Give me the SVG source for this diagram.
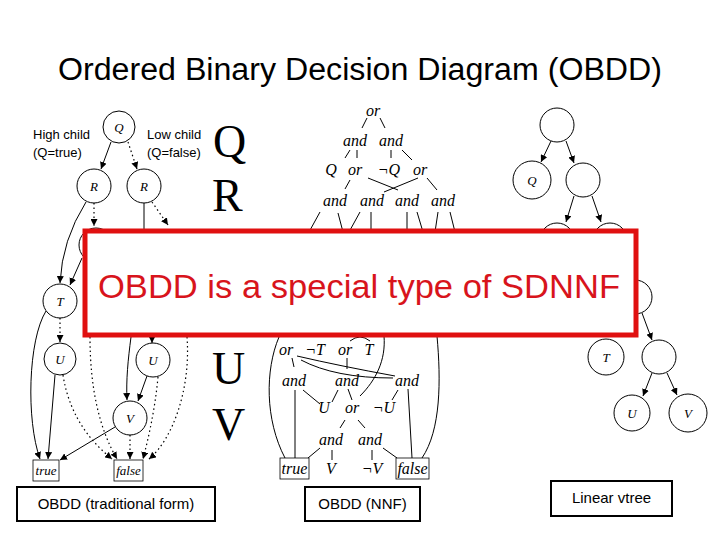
<svg xmlns="http://www.w3.org/2000/svg" width="720" height="540" viewBox="0 0 720 540">
<defs>
<marker id="ah" viewBox="0 0 10 10" refX="10" refY="5" markerWidth="7" markerHeight="7" orient="auto" markerUnits="userSpaceOnUse"><path d="M0,0 L10,5 L0,10 z" fill="#000"/></marker>
</defs>
<style>
.n{fill:#fff;stroke:#000;stroke-width:1}
.e{fill:none;stroke:#000;stroke-width:1}
.d{fill:none;stroke:#000;stroke-width:1.2;stroke-dasharray:1.5 3}
.a{marker-end:url(#ah)}
.lb{font-family:"Liberation Serif",serif;font-style:italic;font-size:13px;text-anchor:middle}
.nf{font-family:"Liberation Serif",serif;font-style:italic;font-size:16px;text-anchor:middle}
.big{font-family:"Liberation Serif",serif;font-size:46px}
.sm{font-family:"Liberation Sans",sans-serif;font-size:13px}
.cap{font-family:"Liberation Sans",sans-serif;font-size:15px;text-anchor:middle}
.bx{fill:#fff;stroke:#000;stroke-width:2}
</style>
<rect width="720" height="540" fill="#fff"/>
<text x="360" y="80" font-family="Liberation Sans,sans-serif" font-size="31" text-anchor="middle" textLength="604" lengthAdjust="spacingAndGlyphs">Ordered Binary Decision Diagram (OBDD)</text>

<!-- connectors -->
<g id="connectors">
<!-- left OBDD -->
<path class="e a" d="M111,142 L101,169"/>
<path class="d a" d="M128,142 L137,169"/>
<path class="e a" d="M86,202 Q62,240 60,283"/>
<path class="d a" d="M94,203 L94,226"/>
<path class="e" d="M144,203 L144,236"/>
<path class="d a" d="M152,202 L168,225"/>
<path class="e a" d="M82,258 L70,285"/>
<path class="d a" d="M60,318 L60,342"/>
<path class="e a" d="M46,311 C28,340 26,420 40,459"/>
<path class="e a" d="M55,375 L48,459"/>
<path class="d a" d="M63,375 C70,420 95,445 112,459"/>
<path class="d a" d="M90,337 C90,390 100,430 117,459"/>
<path class="e a" d="M131,337 C128,360 126,380 127,400"/>
<path class="e a" d="M152,330 L152,343"/>
<path class="e a" d="M147,376 L138,401"/>
<path class="d a" d="M158,377 C155,410 148,440 143,459"/>
<path class="d a" d="M187,337 C191,390 172,440 149,459"/>
<path class="e a" d="M115,427 L60,460"/>
<path class="d a" d="M130,435 L130,459"/>
<!-- middle NNF -->
<path class="e" d="M367,118 L362,128 M380,118 L385,128 M350,150 L345,158 M357,150 L357,158 M391,150 L391,158 M402,150 L412,160 M350,180 L345,189 M368,178 L398,190 M418,178 L384,192 M427,178 L437,190 M320,212 L309,232 M338,213 L343,232 M360,212 L349,232 M371,212 L371,232 M407,212 L407,232 M417,212 L423,232 M438,212 L435,232 M450,212 L455,232"/>
<path class="e" d="M279,337 C265,370 265,420 285,458"/>
<path class="e" d="M350,341 Q360,333 370,341"/>
<path class="e" d="M384,336 C386,360 376,380 360,396"/>
<path class="e" d="M437,336 C441,380 441,430 422,458"/>
<path class="e" d="M292,358 L294,367 M347,358 L347,369"/>
<path class="e" d="M297,356 Q340,366 395,376"/>
<path class="e" d="M301,360 Q335,378 393,378"/>
<path class="e" d="M295,390 L295,458 M303,390 L320,404 M338,390 L332,402 M348,389 L352,400 M398,390 L392,400 M408,389 L412,458"/>
<path class="e" d="M345,420 L340,428 M358,420 L365,428 M332,450 L332,460 M320,448 L308,458 M372,450 L372,460 M383,448 L397,458"/>
<!-- right vtree -->
<path class="e a" d="M551,141 L541,162"/>
<path class="e a" d="M566,141 L574,163"/>
<path class="e a" d="M574,196 L566,222"/>
<path class="e a" d="M592,196 L601,222"/>
<path class="e a" d="M618,255 L628,280"/>
<path class="e a" d="M642,313 L652,340"/>
<path class="e a" d="M652,373 L643,396"/>
<path class="e a" d="M667,373 L677,395"/>
</g>

<!-- left OBDD nodes -->
<g id="lQ"><circle class="n" cx="119" cy="127" r="16"/><text class="lb" x="119" y="132">Q</text></g>
<g id="lR1"><circle class="n" cx="94" cy="186" r="17"/><text class="lb" x="94" y="191">R</text></g>
<g id="lR2"><circle class="n" cx="144" cy="186" r="17"/><text class="lb" x="144" y="191">R</text></g>
<g id="lS1"><circle class="n" cx="96" cy="245" r="17"/></g>
<g id="lT"><circle class="n" cx="60" cy="301" r="17"/><text class="lb" x="60" y="306">T</text></g>
<g id="lU1"><circle class="n" cx="60" cy="359" r="16"/><text class="lb" x="60" y="364">U</text></g>
<g id="lU2"><circle class="n" cx="153" cy="360" r="17"/><text class="lb" x="153" y="365">U</text></g>
<g id="lV"><circle class="n" cx="130" cy="418" r="17"/><text class="lb" x="130" y="423">V</text></g>
<g id="ltrue"><rect x="33" y="460" width="26" height="21" fill="#fff" stroke="#000" stroke-width="0.8"/><text class="lb" x="46" y="475" font-size="12">true</text></g>
<g id="lfalse"><rect x="114" y="460" width="29" height="21" fill="#fff" stroke="#000" stroke-width="0.8"/><text class="lb" x="128.5" y="475" font-size="12">false</text></g>
<text class="sm" x="33" y="139">High child</text>
<text class="sm" x="33" y="157">(Q=true)</text>
<text class="sm" x="147" y="139">Low child</text>
<text class="sm" x="147" y="157">(Q=false)</text>

<!-- big letters -->
<text class="big" x="213" y="157">Q</text>
<text class="big" x="212" y="211">R</text>
<text class="big" x="212" y="384">U</text>
<text class="big" x="212" y="440">V</text>

<!-- middle NNF nodes -->
<g id="nnf">
<text class="nf" x="373" y="116">or</text>
<text class="nf" x="355" y="146">and</text><text class="nf" x="391" y="146">and</text>
<text class="nf" x="331" y="175">Q</text><text class="nf" x="355" y="175">or</text><text class="nf" x="389" y="175">¬Q</text><text class="nf" x="420" y="175">or</text>
<text class="nf" x="335" y="206">and</text><text class="nf" x="372" y="206">and</text><text class="nf" x="407" y="206">and</text><text class="nf" x="443" y="206">and</text>
<text class="nf" x="286" y="355">or</text><text class="nf" x="315" y="355">¬T</text><text class="nf" x="345" y="355">or</text><text class="nf" x="369" y="355">T</text>
<text class="nf" x="294" y="386">and</text><text class="nf" x="347" y="386">and</text><text class="nf" x="407" y="386">and</text>
<text class="nf" x="324" y="413">U</text><text class="nf" x="352" y="413">or</text><text class="nf" x="384" y="413">¬U</text>
<text class="nf" x="331" y="445">and</text><text class="nf" x="370" y="445">and</text>
<rect x="280" y="458" width="29" height="21" fill="#fff" stroke="#000" stroke-width="0.8"/><text class="nf" x="294.5" y="474">true</text>
<text class="nf" x="331" y="474">V</text><text class="nf" x="372" y="474">¬V</text>
<rect x="396" y="458" width="33" height="21" fill="#fff" stroke="#000" stroke-width="0.8"/><text class="nf" x="412.5" y="474">false</text>
</g>

<!-- right vtree nodes -->
<g id="v0"><circle class="n" cx="557" cy="125" r="17"/></g>
<g id="vQ"><circle class="n" cx="532" cy="180" r="19"/><text class="lb" x="532" y="185" font-size="14">Q</text></g>
<g id="v1"><circle class="n" cx="583" cy="180" r="17"/></g>
<g id="vR"><circle class="n" cx="557" cy="240" r="17"/></g>
<g id="v2"><circle class="n" cx="610" cy="240" r="17"/></g>
<g id="v3"><circle class="n" cx="635" cy="297" r="17"/></g>
<g id="vT"><circle class="n" cx="606" cy="357" r="18"/><text class="lb" x="606" y="362" font-size="14">T</text></g>
<g id="v4"><circle class="n" cx="659" cy="357" r="17"/></g>
<g id="vU"><circle class="n" cx="632" cy="413" r="18"/><text class="lb" x="632" y="418" font-size="14">U</text></g>
<g id="vV"><circle class="n" cx="688" cy="413" r="19"/><text class="lb" x="688" y="418" font-size="14">V</text></g>

<!-- red callout -->
<g id="callout">
<rect x="85" y="231" width="551" height="104" fill="#fff" stroke="#e01010" stroke-width="5"/>
<text x="359" y="298" font-family="Liberation Sans,sans-serif" font-size="34" fill="#d8141c" text-anchor="middle" textLength="522" lengthAdjust="spacingAndGlyphs">OBDD is a special type of SDNNF</text>
</g>

<!-- captions -->
<g id="cap1"><rect class="bx" x="17" y="487" width="198" height="34"/><text class="cap" x="116" y="509">OBDD (traditional form)</text></g>
<g id="cap2"><rect class="bx" x="305" y="487" width="115" height="34"/><text class="cap" x="362.5" y="509">OBDD (NNF)</text></g>
<g id="cap3"><rect class="bx" x="551" y="481" width="121" height="35"/><text class="cap" x="611.5" y="503">Linear vtree</text></g>
</svg>
